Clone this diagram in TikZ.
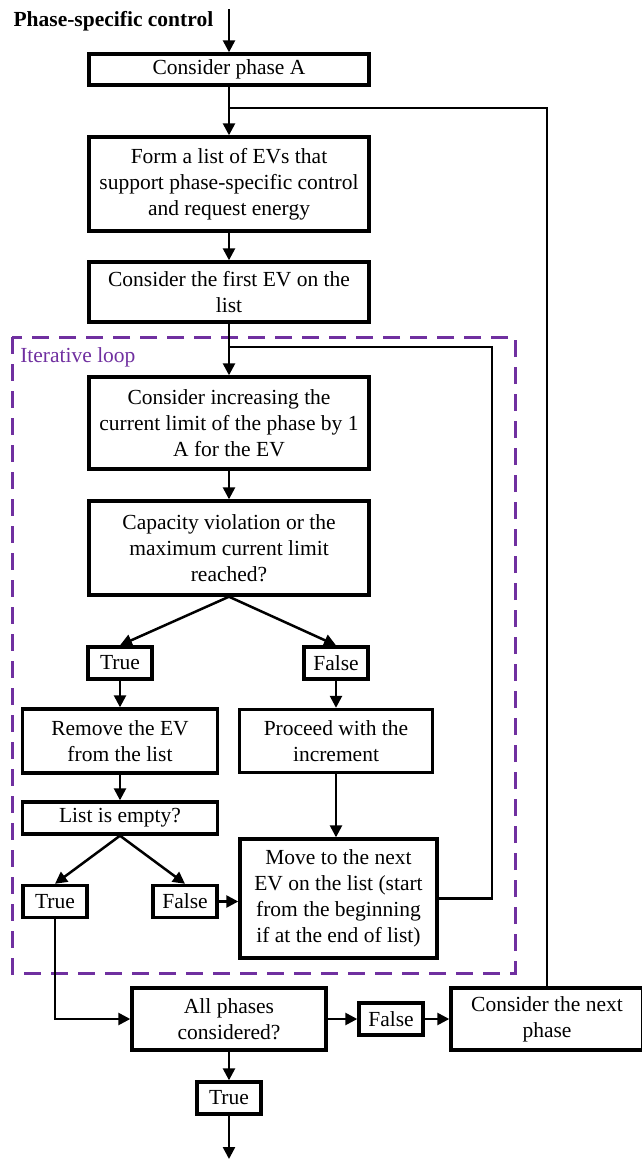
\documentclass[tikz,border=0pt]{standalone}
\usepackage{fontspec}
\setmainfont{Liberation Serif}
\usepackage{tikz}
\usetikzlibrary{positioning, arrows.meta}
\definecolor{loopviolet}{RGB}{112,48,160}
\tikzset{
>={Triangle[length=12pt,width=12pt]}, % filled triangle heads
every path/.style={line width=2.5pt}, % connectors
box/.style={draw, line width=3.4pt, align=center, inner sep=2pt,
  font=\fontsize{21.5}{26}\selectfont}, % process boxes
flag/.style={box, minimum width=64pt, minimum height=32pt}, % True / False tags
loopframe/.style={draw=loopviolet, line width=3pt, dash pattern=on 17pt off 10pt}, % iterative loop frame
}

\begin{document}
\begin{tikzpicture}[x=1pt, y=-1pt]
                \useasboundingbox (0,0) rectangle (641,1159);
                \node[anchor=base west, font=\fontsize{21.5}{26}\selectfont\bfseries] (title) at (9,26) {Phase-specific control};
                \coordinate (start) at (229,9);
                \node[box, minimum width=280pt, minimum height=31pt] (phaseA) at (229,69.5) {Consider phase A};
                \node[box, minimum width=280pt, minimum height=94pt] (formlist) at (229,184) {Form a list of EVs that\\ support phase-specific control\\ and request energy};
                \node[box, minimum width=280pt, minimum height=60pt] (firstev) at (229,292) {Consider the first EV on the\\ list};
                % iterative loop
                \draw[loopframe] (12,337) rectangle (515,973);
                \node[anchor=base west, text=loopviolet, inner sep=0pt, font=\fontsize{21.5}{26}\selectfont] (looplabel) at (19,362) {Iterative loop};
                \node[box, minimum width=280pt, minimum height=92pt] (increase) at (229,423) {Consider increasing the\\ current limit of the phase by 1\\ A for the EV};
                \node[box, minimum width=280pt, minimum height=94pt] (capcheck) at (229,548) {Capacity violation or the\\ maximum current limit\\ reached?};
                \node[flag] (trueA) at (120,663) {True};
                \node[flag] (falseA) at (336,663) {False};
                \node[box, minimum width=195pt, minimum height=64pt] (removeev) at (120,741) {Remove the EV\\ from the list};
                \node[box, minimum width=193pt, minimum height=63pt] (proceed) at (336,741) {Proceed with the\\ increment};
                \node[box, minimum width=195pt, minimum height=32pt] (emptycheck) at (120,818) {List is empty?};
                \node[flag] (trueB) at (55,901.5) {True};
                \node[flag] (falseB) at (185,901.5) {False};
                \node[box, minimum width=197pt, minimum height=119pt] (moveon) at (338.5,898.5) {Move to the next\\ EV on the list (start\\ from the beginning\\ if at the end of list)};
                % outer part
                \node[box, minimum width=194pt, minimum height=62pt] (allcheck) at (229,1019) {All phases\\ considered?};
                \node[flag] (falseC) at (391,1019) {False};
                \node[box, minimum width=192pt, minimum height=62pt] (nextphase) at (547,1019) {Consider the next\\ phase};
                \node[flag] (trueC) at (229,1098) {True};
                \coordinate (finish) at (229,1159);
                \coordinate (joinA) at (229,108);
                \coordinate (joinL) at (229,347);
                \coordinate (loopR) at (492,347);

                \draw[->] (start) -- (phaseA);
                \draw[->] (phaseA) -- (formlist);
                \draw (nextphase.north) |- (joinA);
                \draw[->] (formlist) -- (firstev);
                \draw[->] (firstev) -- (increase);
                \draw (moveon.east) -| (loopR) -- (joinL);
                \draw[->] (increase) -- (capcheck);
                \draw[->] (capcheck.south) -- (trueA.north);
                \draw[->] (capcheck.south) -- (falseA.north);
                \draw[->] (trueA) -- (removeev);
                \draw[->] (falseA) -- (proceed);
                \draw[->] (removeev) -- (emptycheck);
                \draw[->] (emptycheck.south) -- (trueB.north);
                \draw[->] (emptycheck.south) -- (falseB.north);
                \draw[->] (falseB.east) -- (falseB.east -| moveon.west);
                \draw[->] (proceed) -- (proceed |- moveon.north);
                \draw[->] (trueB.south) |- (allcheck.west);
                \draw[->] (allcheck) -- (falseC);
                \draw[->] (falseC) -- (nextphase);
                \draw[->] (allcheck) -- (trueC);
                \draw[->] (trueC) -- (finish);
                \end{tikzpicture}
\end{document}
